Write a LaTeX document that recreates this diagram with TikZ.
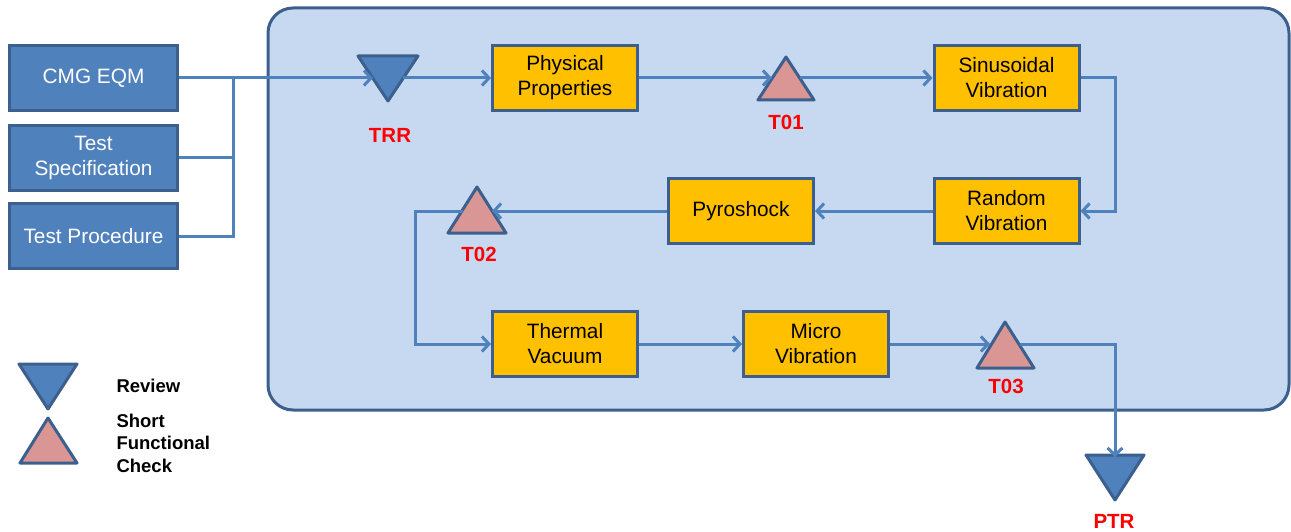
\documentclass[tikz,border=0pt]{standalone}
\usepackage{fontspec}
\setmainfont{Liberation Sans}
\usetikzlibrary{arrows.meta}
\definecolor{panelfill}{HTML}{C6D9F0}
\definecolor{darkedge}{HTML}{3C5F8D}
\definecolor{bluefill}{HTML}{4F81BD}
\definecolor{orangefill}{HTML}{FFC000}
\definecolor{pinkfill}{HTML}{D99694}
\definecolor{redtext}{HTML}{FF0000}
\begin{document}
\begin{tikzpicture}[x=1pt,y=-1pt,
  inbox/.style={draw=darkedge, fill=bluefill, line width=3pt, minimum width=168pt, minimum height=65pt, inner sep=0pt, text=white, align=center, font=\fontsize{20.8}{25}\selectfont},
  stepbox/.style={draw=darkedge, fill=orangefill, line width=3pt, minimum width=145pt, minimum height=65pt, inner sep=0pt, text=black, align=center, font=\fontsize{20.8}{25}\selectfont},
  conn/.style={draw=bluefill, line width=3pt},
  arr/.style={conn, -{Straight Barb[length=7pt,width=15pt,line width=3pt]}},
  tri/.style={draw=darkedge, line width=3pt, line join=round},
  lab/.style={text=redtext, font=\fontsize{20.5}{24}\selectfont\bfseries},
  legend/.style={text=black, font=\fontsize{18.5}{22.5}\selectfont\bfseries, align=left, anchor=west}
]
\useasboundingbox (0,0) rectangle (1291,532);

% panel
\draw[draw=darkedge, fill=panelfill, line width=3pt, rounded corners=25pt] (268,8) rectangle (1289,410);

% input boxes
\node[inbox] (cmg) at (93.5,78) {CMG EQM};
\node[inbox] (spec) at (93.5,158) {Test\\Specification};
\node[inbox] (proc) at (93.5,236) {Test Procedure};

% step boxes
\node[stepbox] (pp) at (565,78) {Physical\\Properties};
\node[stepbox] (sin) at (1006.5,78) {Sinusoidal\\Vibration};
\node[stepbox] (rand) at (1006.5,211) {Random\\Vibration};
\node[stepbox] (pyro) at (741,211) {Pyroshock};
\node[stepbox] (tv) at (565,344) {Thermal\\Vacuum};
\node[stepbox] (mv) at (816,344) {Micro\\Vibration};

% triangles
\draw[tri, fill=bluefill] (358,56) -- (418,56) -- (388,101) -- cycle;
\draw[tri, fill=pinkfill] (786,57) -- (814,100) -- (758,100) -- cycle;
\draw[tri, fill=pinkfill] (477,187) -- (506,233) -- (448,233) -- cycle;
\draw[tri, fill=pinkfill] (1005,322) -- (1034,368) -- (977,368) -- cycle;
\draw[tri, fill=bluefill] (1086,455) -- (1144,455) -- (1115,500) -- cycle;

% triangle contact points
\coordinate (trrin) at (373,78);
\coordinate (trrout) at (403,78);
\coordinate (t01in) at (772,78);
\coordinate (t01out) at (800,78);
\coordinate (t02in) at (492,211);
\coordinate (t02out) at (463,211);
\coordinate (t03in) at (990,344);
\coordinate (t03out) at (1020,344);
\coordinate (ptrin) at (1115,457);
\coordinate (j) at (233,78);
\coordinate (sinbend) at (1115,78);
\coordinate (t02bend) at (415,211);
\coordinate (t03bend) at (1115,344);

% labels
\node[lab] (trrl) at (390,135) {TRR};
\node[lab] (t01l) at (786,122) {T01};
\node[lab] (t02l) at (479,254) {T02};
\node[lab] (t03l) at (1006,386) {T03};
\node[lab] (ptrl) at (1114,521) {PTR};

% connectors
\draw[arr] (cmg.east) -- (trrin);
\draw[conn] (spec.east) -| (j);
\draw[conn] (proc.east) -| (j);
\draw[arr] (trrout) -- (pp.west);
\draw[arr] (pp.east) -- (t01in);
\draw[arr] (t01out) -- (sin.west);
\draw[arr] (sin.east) -- (sinbend) |- (rand.east);
\draw[arr] (rand.west) -- (pyro.east);
\draw[arr] (pyro.west) -- (t02in);
\draw[arr] (t02out) -- (t02bend) |- (tv.west);
\draw[arr] (tv.east) -- (mv.west);
\draw[arr] (mv.east) -- (t03in);
\draw[arr] (t03out) -- (t03bend) -- (ptrin);

% legend
\draw[tri, fill=bluefill] (19,364) -- (77,364) -- (48,409) -- cycle;
\draw[tri, fill=pinkfill] (48,418) -- (77,463) -- (20,463) -- cycle;
\node[legend] (rev) at (113,386) {Review};
\node[legend] (sfc) at (113,443) {Short\\Functional\\Check};
\end{tikzpicture}
\end{document}
